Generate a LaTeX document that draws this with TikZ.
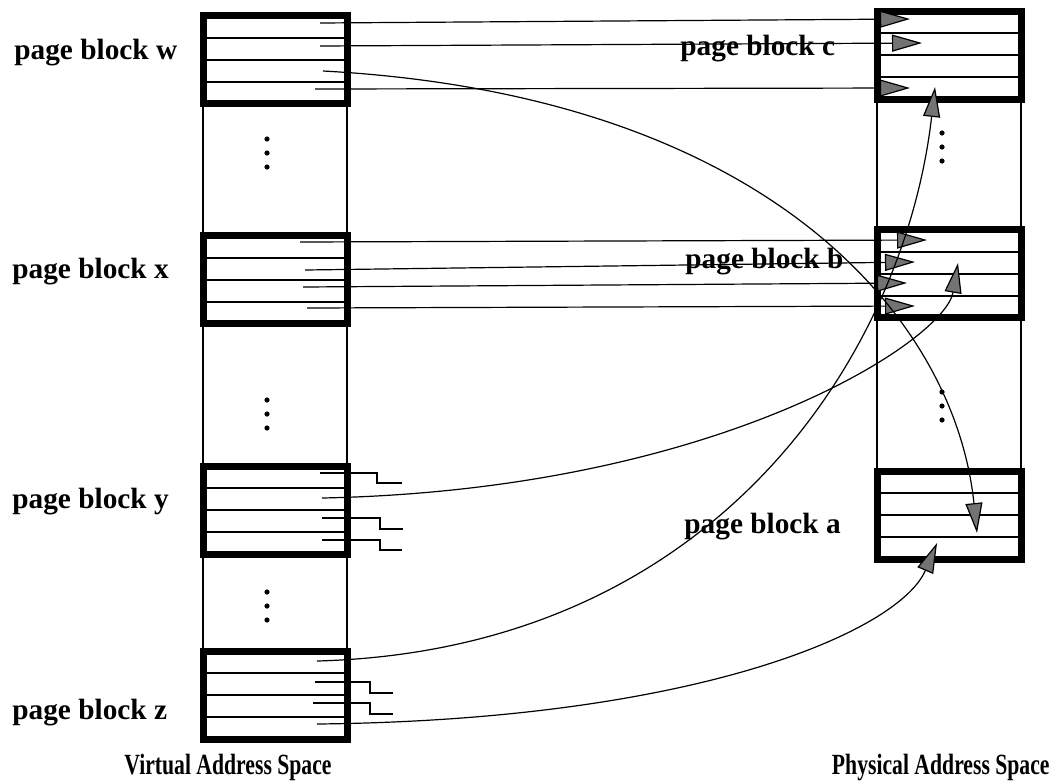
\documentclass[tikz,border=0pt]{standalone}
\usepackage{fontspec}
\setmainfont{Liberation Serif}
\usepackage{graphicx}
\usepackage{tikz}
\usetikzlibrary{arrows.meta, calc, positioning}

\begin{document}
\begin{tikzpicture}[x=0.5pt, y=-0.5pt,
  pblock/.style={rectangle, draw, line width=3.5pt, minimum width=72pt, minimum height=44pt, inner sep=0pt, outer sep=0pt},
  rowline/.style={line width=1pt},
  colline/.style={line width=0.8pt},
  lbl/.style={font=\fontsize{14.65}{17}\selectfont\bfseries, inner sep=0pt, anchor=base west},
  link/.style={line width=0.6pt},
  map/.style={line width=0.6pt, -{Triangle[length=15pt, width=8.5pt, fill=black!55]}},
  vdot/.style={circle, fill, inner sep=0pt, minimum size=2.6pt}
]
\useasboundingbox (0,0) rectangle (1059,782);

% Virtual address space
\node[pblock] (w) at (275,59.75) {};
\node[pblock] (x) at (275,279.5) {};
\node[pblock] (y) at (275,510)   {};
\node[pblock] (z) at (275,695)   {};
\draw[colline] (w.north west) -- (z.south west);
\draw[colline] (w.north east) -- (z.south east);

% Physical address space
\node[pblock] (c) at (949,55)    {};
\node[pblock] (b) at (949,273.5) {};
\node[pblock] (a) at (949,515)   {};
\draw[colline] (c.north west) -- (a.south west);
\draw[colline] (c.north east) -- (a.south east);

% Page rows
\foreach \blk in {w,x,y,z,c,b,a}
  \foreach \f in {0.25,0.5,0.75}
    \draw[rowline] ($(\blk.north west)!\f!(\blk.south west)$) -- ($(\blk.north east)!\f!(\blk.south east)$);

% Dots
\foreach \yy [count=\i] in {139,153,167,400,414,428,592,606,620}
  \node[vdot] (vd\i) at (267,\yy) {};
\foreach \yy [count=\i] in {133,147,161,392,406,420}
  \node[vdot] (pd\i) at (942,\yy) {};

% Labels
\node[lbl] (lw) at (14,59)   {page block w};
\node[lbl] (lx) at (12,278)  {page block x};
\node[lbl] (ly) at (12,508)  {page block y};
\node[lbl] (lz) at (12,719)  {page block z};
\node[lbl] (lc) at (680,55.5) {page block c};
\node[lbl] (lb) at (685,268) {page block b};
\node[lbl] (la) at (684,533) {page block a};
\node[lbl, anchor=base] (virt) at (228,774) {\scalebox{0.74}[1]{Virtual Address Space}};
\node[lbl, anchor=base east] (phys) at (1050,774) {\scalebox{0.74}[1]{Physical Address Space}};

% Page starts
\coordinate (w1) at (320,23);  \coordinate (w2) at (320,46);
\coordinate (w3) at (323,71);  \coordinate (w4) at (315,89);
\coordinate (x1) at (300,242); \coordinate (x2) at (305,270);
\coordinate (x3) at (303,287); \coordinate (x4) at (307,308);
\coordinate (y1) at (320,473); \coordinate (y2) at (322,498);
\coordinate (y3) at (322,518); \coordinate (y4) at (322,540);
\coordinate (z1) at (317,661); \coordinate (z2) at (315,682);
\coordinate (z3) at (313,703); \coordinate (z4) at (317,724);

% Page targets
\coordinate (c1) at (910,19);  \coordinate (c2) at (922,43);
\coordinate (c4) at (910,88);  \coordinate (c4u) at (935,87);
\coordinate (b1) at (927,240); \coordinate (b2) at (915,262);
\coordinate (b3) at (907,283); \coordinate (b4) at (915,306);
\coordinate (b2u) at (958,263);
\coordinate (a3d) at (977,533); \coordinate (a4u) at (937,543);

% Straight mappings
\draw[map] (w1) -- (c1);
\draw[map] (w2) -- (c2);
\draw[map] (w4) -- (c4);
\draw[map] (x1) -- (b1);
\draw[map] (x2) -- (b2);
\draw[map] (x3) -- (b3);
\draw[map] (x4) -- (b4);

% Scattered mappings
\draw[map] (w3) .. controls (770,95) and (955,320) .. (a3d);
\draw[map] (y2) .. controls (720,490) and (945,340) .. (b2u);
\draw[map] (z1) .. controls (720,650) and (905,350) .. (c4u);
\draw[map] (z4) .. controls (700,720) and (900,630) .. (a4u);

% Unmapped pages
\draw[link] (y1) -- ++(57,0) -- ++(0,10) -- ++(25,0);
\draw[link] (y3) -- ++(58,0) -- ++(0,11) -- ++(23,0);
\draw[link] (y4) -- ++(58,0) -- ++(0,10) -- ++(22,0);
\draw[link] (z2) -- ++(55,0) -- ++(0,11) -- ++(23,0);
\draw[link] (z3) -- ++(57,0) -- ++(0,11) -- ++(23,0);

\end{tikzpicture}
\end{document}
